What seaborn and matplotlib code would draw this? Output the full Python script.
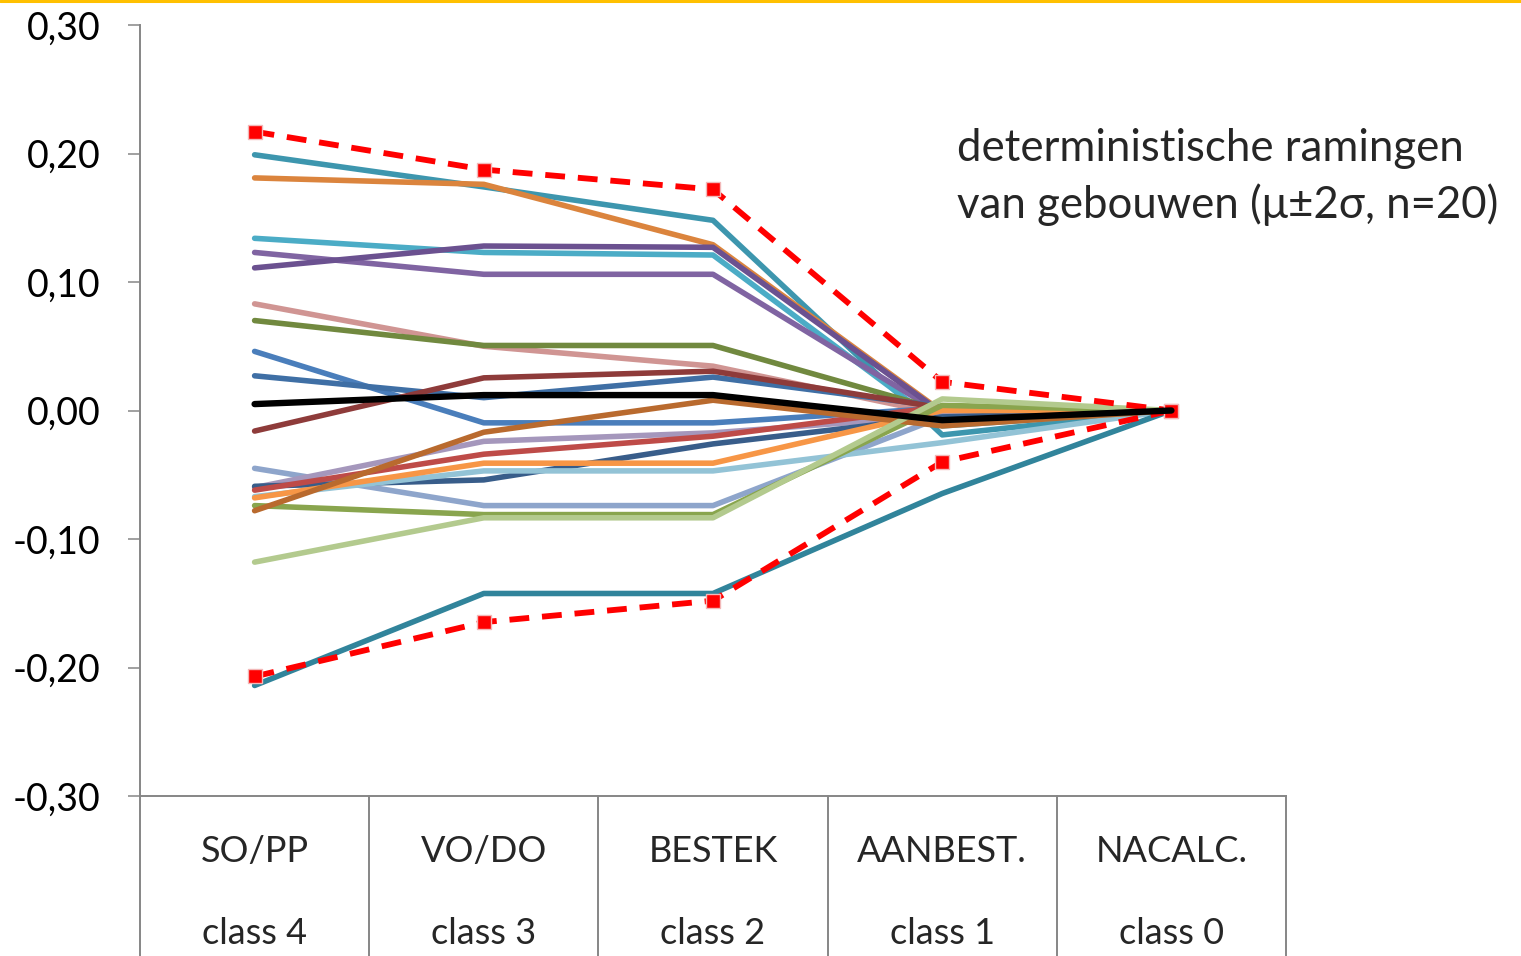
import pandas as pd
import seaborn as sns
import matplotlib
matplotlib.use('Agg')
import matplotlib.pyplot as plt
from matplotlib.lines import Line2D

# data
stages = ['SO/PP', 'VO/DO', 'BESTEK', 'AANBEST.', 'NACALC.']
classes = ['class 4', 'class 3', 'class 2', 'class 1', 'class 0']

buildings = {
    'b01': [0.199, 0.174, 0.148, -0.019, 0.0],
    'b02': [0.181, 0.176, 0.129, -0.001, 0.0],
    'b03': [0.134, 0.123, 0.121, -0.012, 0.0],
    'b04': [0.123, 0.106, 0.106, -0.003, 0.0],
    'b05': [0.111, 0.128, 0.127, -0.002, 0.0],
    'b06': [0.083, 0.050, 0.0345, -0.003, 0.0],
    'b07': [0.070, 0.0506, 0.0506, 0.000, 0.0],
    'b08': [0.046, -0.0096, -0.0096, 0.002, 0.0],
    'b09': [0.027, 0.010, 0.026, 0.003, 0.0],
    'b10': [-0.016, 0.0254, 0.0306, 0.002, 0.0],
    'b11': [-0.045, -0.074, -0.074, -0.005, 0.0],
    'b12': [-0.060, -0.024, -0.0174, -0.004, 0.0],
    'b13': [-0.059, -0.054, -0.026, -0.005, 0.0],
    'b14': [-0.062, -0.034, -0.020, 0.003, 0.0],
    'b15': [-0.067, -0.047, -0.047, -0.025, 0.0],
    'b16': [-0.068, -0.041, -0.041, 0.000, 0.0],
    'b17': [-0.074, -0.081, -0.081, 0.004, 0.0],
    'b18': [-0.078, -0.0169, 0.008, -0.012, 0.0],
    'b19': [-0.118, -0.0835, -0.0835, 0.009, 0.0],
    'b20': [-0.214, -0.1424, -0.1424, -0.0646, 0.0],
}
line_colors = ['#3D96AE', '#DB843D', '#4BACC6', '#8064A2', '#6B5190',
               '#D09593', '#71893F', '#4A7EBB', '#3F6FA5', '#8E3B3A',
               '#8EA5CB', '#A597BC', '#385D8A', '#BE4B48', '#93C3D6',
               '#F79646', '#89A54E', '#B96A2E', '#B3CA8E', '#31849B']

mean_values = [0.005, 0.012, 0.012, -0.0075, 0.0]
upper_values = [0.217, 0.1875, 0.172, 0.0223, 0.0]
lower_values = [-0.207, -0.1647, -0.148, -0.040, 0.0]

ytick_values = [-0.30, -0.20, -0.10, 0.00, 0.10, 0.20, 0.30]

# long form table for seaborn
rows = []
for name, vals in buildings.items():
    for i, v in enumerate(vals):
        rows.append({'series': name, 'pos': i, 'value': v})
df = pd.DataFrame(rows)
palette = dict(zip(buildings.keys(), line_colors))

sns.set_style('white')
plt.rcParams['font.family'] = ['Lato', 'DejaVu Sans']

fig = plt.figure(figsize=(15.21, 9.56), dpi=100)
ax = fig.add_axes([140 / 1521, 160 / 956, 1146 / 1521, 771 / 956])

sns.lineplot(data=df, x='pos', y='value', hue='series', palette=palette,
             linewidth=4, legend=False, sort=False, ax=ax)

pos = list(range(len(stages)))
band_style = dict(color='#FF0000', linewidth=4.2, dashes=(3.4, 2.2),
                  marker='s', markersize=10, markeredgecolor='#F2B8B8',
                  markeredgewidth=1.0, zorder=5)
ax.plot(pos, upper_values, **band_style)
ax.plot(pos, lower_values, **band_style)
sns.lineplot(x=pos, y=mean_values, color='black', linewidth=4.6, ax=ax, zorder=6)

ax.set_xlim(-0.5, len(stages) - 0.5)
ax.set_ylim(-0.30, 0.30)
ax.set_yticks(ytick_values)
ax.set_yticklabels([f'{v:.2f}'.replace('.', ',') for v in ytick_values])
ax.set_xticks([])
ax.set_xlabel('')
ax.set_ylabel('')

spine_color = '#868686'
for side in ['top', 'right']:
    ax.spines[side].set_visible(False)
for side in ['left', 'bottom']:
    ax.spines[side].set_color(spine_color)
    ax.spines[side].set_linewidth(1.4)
ax.tick_params(axis='y', length=8.5, width=1.1, color=spine_color,
               pad=20, labelsize=27, labelcolor='black', left=True)

# multi-level category labels with separators
trans = ax.get_xaxis_transform()
for i in range(len(stages) + 1):
    ax.plot([i - 0.5, i - 0.5], [0, -0.21], transform=trans, color=spine_color,
            linewidth=1.4, clip_on=False)
for i, (s, c) in enumerate(zip(stages, classes)):
    ax.text(i, -0.072, s, transform=trans, ha='center', va='center', fontsize=26)
    ax.text(i, -0.178, c, transform=trans, ha='center', va='center', fontsize=26)

ax.text(957 / 1521, (956 - 177) / 956, 'deterministische ramingen\nvan gebouwen (μ±2σ, n=20)',
        transform=fig.transFigure, ha='left', va='center', fontsize=31.5,
        linespacing=1.42)

# thin accent line along the top edge
fig.add_artist(Line2D([0, 1], [0.9985, 0.9985], transform=fig.transFigure,
                      color='#FFC000', linewidth=2.2))

fig.savefig('out.png', dpi=100)
